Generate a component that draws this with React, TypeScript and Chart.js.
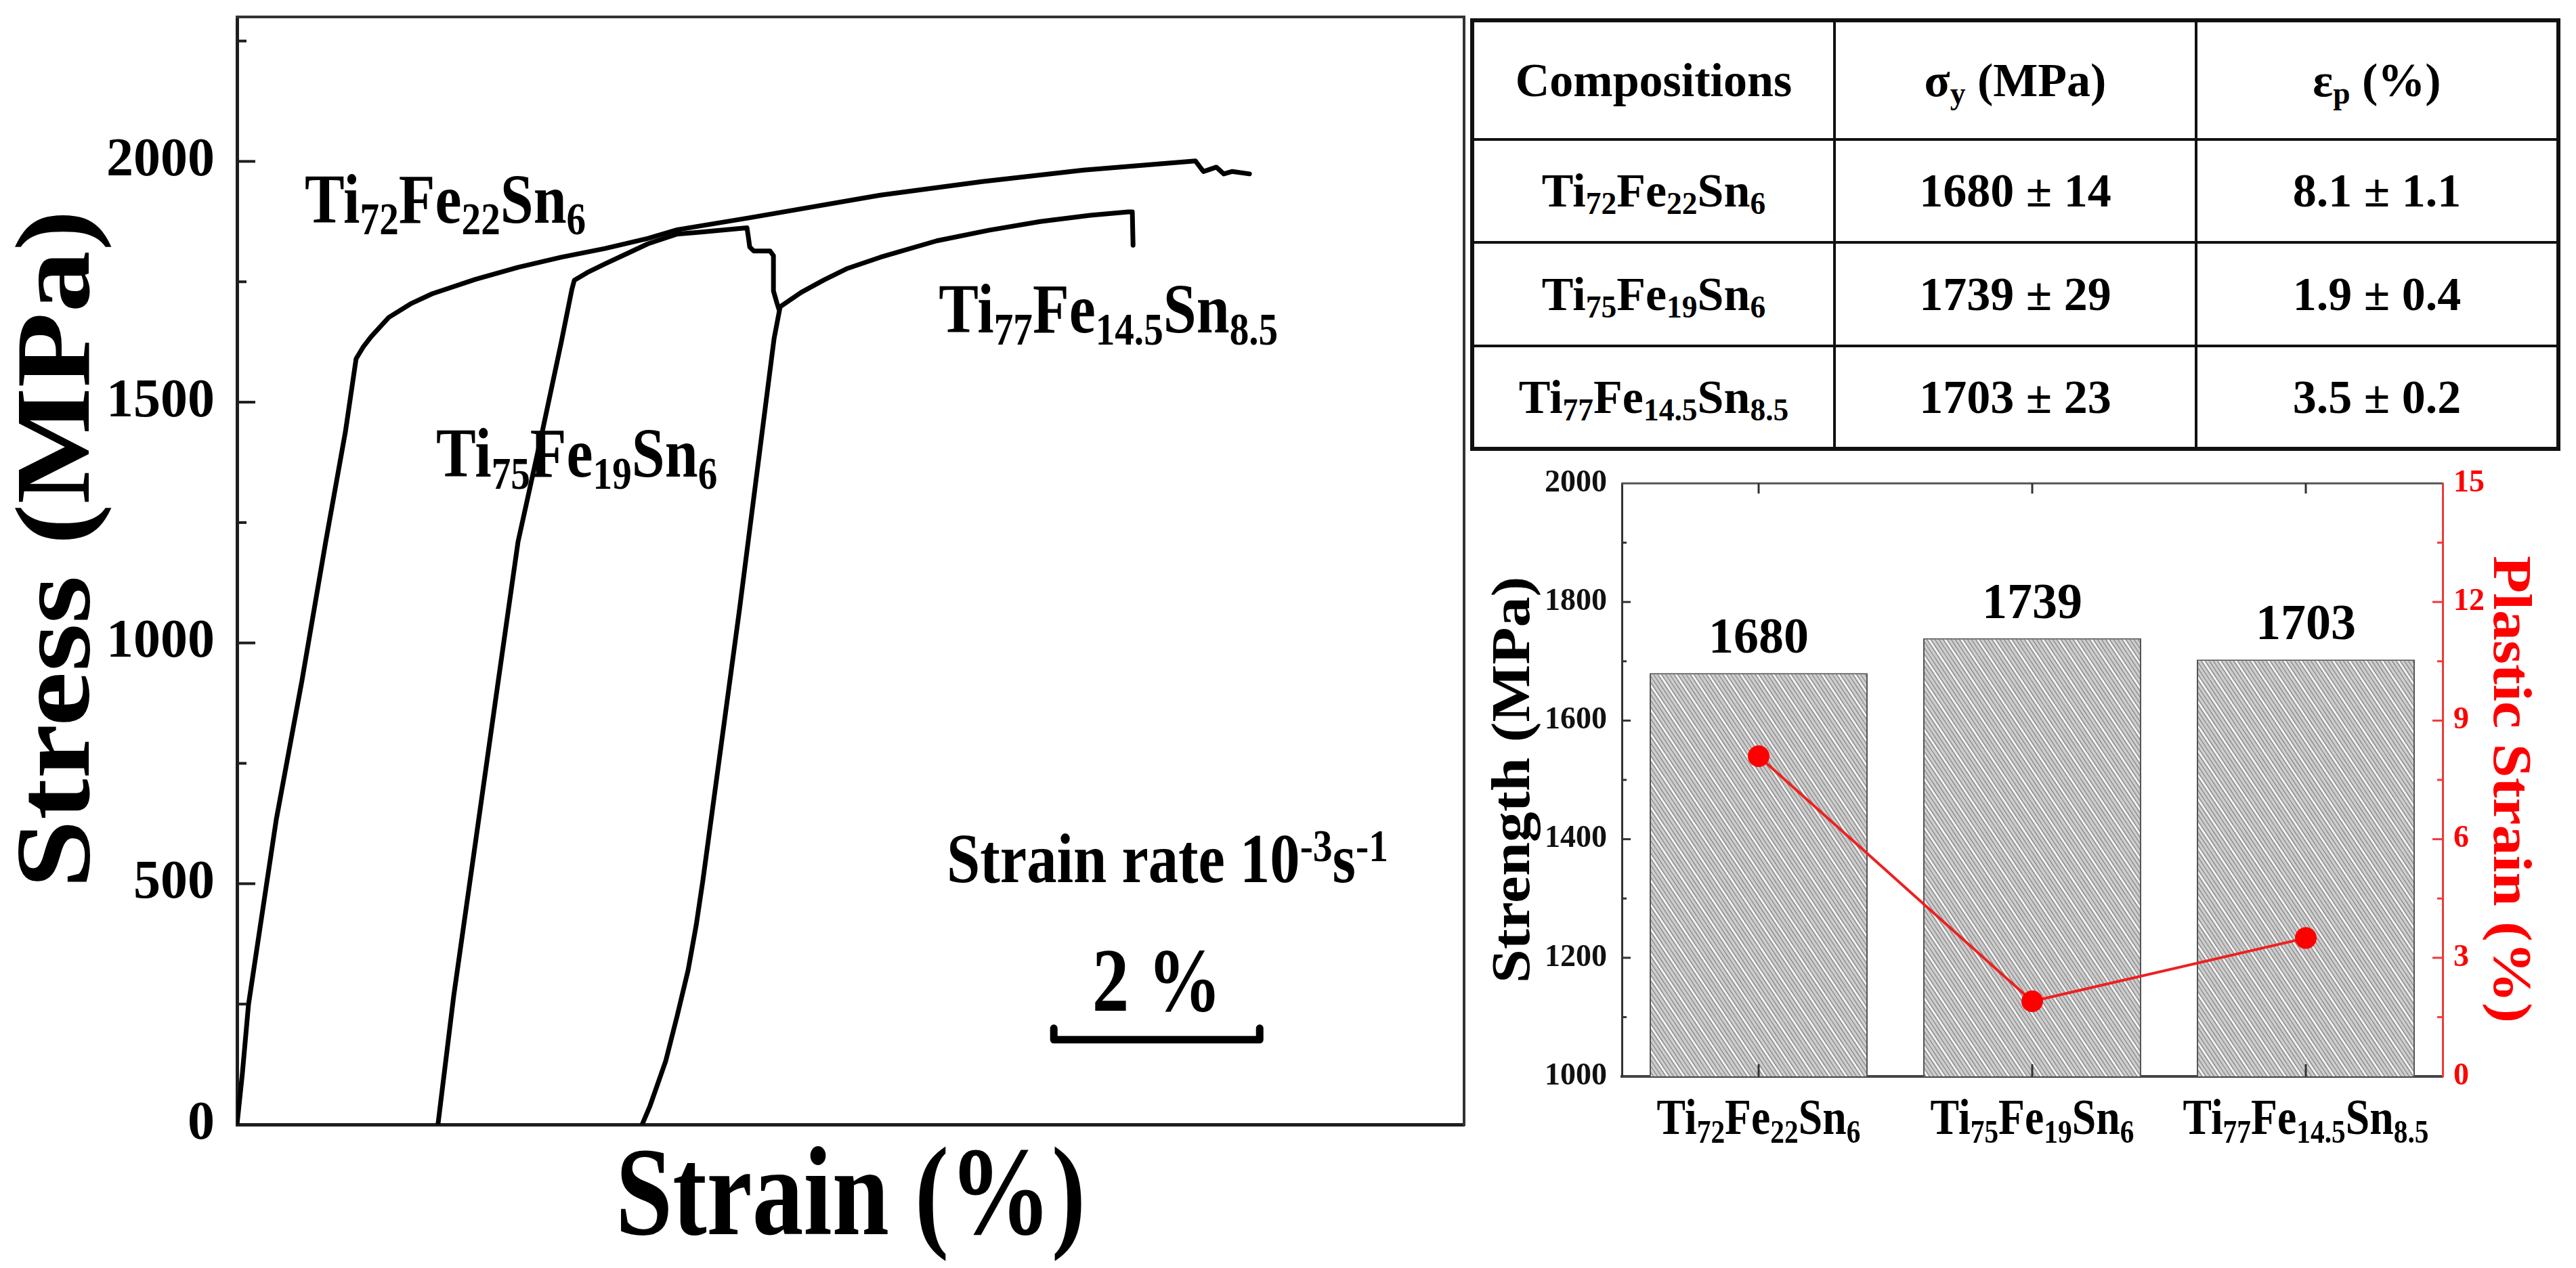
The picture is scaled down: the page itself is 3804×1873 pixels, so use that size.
import React, { useEffect, useRef } from 'react';
import { Chart, registerables } from 'chart.js';

Chart.register(...registerables);

const SERIF = "'Liberation Serif', 'Times New Roman', Times, serif";

// ---------------- data ----------------
const compositions = ['Ti72Fe22Sn6', 'Ti75Fe19Sn6', 'Ti77Fe14.5Sn8.5'];

// stress-strain curves (strain in %, stress in MPa; curves are offset along strain)
const strainA = [0, 0.05, 0.108, 0.369, 0.611, 0.834, 1.019, 1.12, 1.185, 1.261, 1.427, 1.631, 1.834, 2.242, 2.643, 3.051, 3.459, 3.866, 4.14, 4.822, 6.051, 7.006, 7.962, 9.013, 9.089, 9.21, 9.28, 9.357, 9.522];
const stressA = [0, 105, 249, 633, 922, 1210, 1438, 1590, 1614, 1636, 1676, 1704, 1725, 1755, 1780, 1801, 1819, 1840, 1858, 1883, 1930, 1958, 1982, 2001, 1979, 1988, 1974, 1979, 1974];

const strainB = [1.89, 2.038, 2.242, 2.439, 2.643, 2.87, 3.05, 3.15, 3.172, 3.293, 3.459, 3.662, 3.866, 4.14, 4.35, 4.796, 4.809, 4.822, 4.86, 5.013, 5.045, 5.045, 5.076, 5.096];
const stressB = [0, 267, 585, 893, 1210, 1438, 1625, 1735, 1753, 1769, 1787, 1808, 1829, 1849, 1853, 1862, 1843, 1822, 1814, 1814, 1804, 1731, 1707, 1693];

const strainC = [3.81, 3.885, 4.032, 4.14, 4.242, 4.318, 4.382, 4.726, 5.051, 5.108, 5.306, 5.522, 5.732, 6.051, 6.58, 7.07, 7.554, 8.025, 8.382, 8.42, 8.427];
const stressC = [0, 39, 132, 226, 320, 413, 508, 1070, 1632, 1698, 1728, 1754, 1777, 1801, 1835, 1857, 1875, 1888, 1895, 1895, 1826];

const stressTicks = [0, 250, 500, 750, 1000, 1250, 1500, 1750, 2000, 2250];
const stressTickLabels = [0, 500, 1000, 1500, 2000];

// table / bar chart values
const yieldStrength = [1680, 1739, 1703];
const yieldErr = [14, 29, 23];
const plasticStrain = [8.1, 1.9, 3.5];
const plasticErr = [1.1, 0.4, 0.2];

const strengthTickLabels = [1000, 1200, 1400, 1600, 1800, 2000];
const plasticTickLabels = [0, 3, 6, 9, 12, 15];

// annotation anchors (data coordinates of the left panel)
const labelStrain = [0.637, 1.873, 6.599];
const labelStress = [1873, 1345, 1645];
const rateAnchor = { strain: 6.675, stress: 503 };
const scaleBar = { start: 7.65, length: 2, stress: 176, textStress: 236 };

// ---------------- helpers ----------------
type Seg = { t: string; s?: 'sub' | 'sup' };

function formulaSegs(f: string): Seg[] {
  const out: Seg[] = [];
  const re = /([A-Z][a-z]?)([\d.]*)/g;
  let m: RegExpExecArray | null;
  while ((m = re.exec(f)) !== null) {
    if (!m[0]) { re.lastIndex++; continue; }
    out.push({ t: m[1] });
    if (m[2]) out.push({ t: m[2], s: 'sub' });
  }
  return out;
}

function drawRich(ctx: any, segs: Seg[], x: number, y: number, size: number, o: any = {}) {
  const weight = o.weight ?? 'bold';
  ctx.save();
  ctx.translate(x, y);
  if (o.rot) ctx.rotate(o.rot);
  ctx.scale(o.sx ?? 1, o.sy ?? 1);
  ctx.fillStyle = o.color ?? '#000';
  ctx.textBaseline = 'alphabetic';
  ctx.textAlign = 'left';
  const fs = (s: Seg) => (s.s ? size * 0.65 : size);
  let W = 0;
  for (const s of segs) {
    ctx.font = `${weight} ${fs(s)}px ${SERIF}`;
    W += ctx.measureText(s.t).width;
  }
  let cx = o.align === 'center' ? -W / 2 : o.align === 'right' ? -W : 0;
  for (const s of segs) {
    ctx.font = `${weight} ${fs(s)}px ${SERIF}`;
    const dy = s.s === 'sub' ? size * 0.17 : s.s === 'sup' ? -size * 0.3 : 0;
    ctx.fillText(s.t, cx, dy);
    cx += ctx.measureText(s.t).width;
  }
  ctx.restore();
}

function formulaJSX(f: string) {
  return formulaSegs(f).map((s, i) =>
    s.s ? (
      <sub key={i} style={{ fontSize: '0.65em', verticalAlign: '-0.25em', lineHeight: 0 }}>{s.t}</sub>
    ) : (
      <span key={i}>{s.t}</span>
    )
  );
}

// ---------------- left panel ----------------
function StressStrainChart() {
  const ref = useRef<HTMLCanvasElement>(null);
  useEffect(() => {
    const canvas = ref.current!;
    const mk = (xs: number[], ys: number[]) => xs.map((x, i) => ({ x, y: ys[i] }));
    const lineStyle: any = {
      borderColor: '#000', borderWidth: 7, pointRadius: 0, tension: 0, fill: false,
      borderJoinStyle: 'round', borderCapStyle: 'round',
    };
    const decor = {
      id: 'ssDecor',
      afterDraw(chart: any) {
        const { ctx, chartArea: a } = chart;
        const xs = chart.scales.x;
        const ys = chart.scales.y;
        ctx.save();
        ctx.lineCap = 'butt';
        ctx.strokeStyle = '#333';
        ctx.lineWidth = 4;
        ctx.beginPath();
        ctx.moveTo(a.left - 2, a.top);
        ctx.lineTo(a.right, a.top);
        ctx.lineTo(a.right, a.bottom + 2);
        ctx.stroke();
        ctx.strokeStyle = '#1e1e1e';
        ys.ticks.forEach((t: any) => {
          if (t.value <= ys.min) return;
          const py = ys.getPixelForValue(t.value);
          const len = stressTickLabels.includes(t.value) ? 27 : 14;
          ctx.beginPath();
          ctx.moveTo(a.left, py);
          ctx.lineTo(a.left + len, py);
          ctx.stroke();
        });
        // axis titles
        drawRich(ctx, [{ t: 'Stress (MPa)' }], 131, 811, 182, { align: 'center', rot: -Math.PI / 2, sy: 0.86 });
        drawRich(ctx, [{ t: 'Strain (%)' }], (a.left + a.right) / 2, a.bottom + 162, 187, { align: 'center', sx: 0.81 });
        // composition labels
        compositions.forEach((c, i) => {
          drawRich(ctx, formulaSegs(c), xs.getPixelForValue(labelStrain[i]), ys.getPixelForValue(labelStress[i]), 104, { sx: 0.846 });
        });
        // strain rate
        drawRich(
          ctx,
          [{ t: 'Strain rate 10' }, { t: '-3', s: 'sup' }, { t: 's' }, { t: '-1', s: 'sup' }],
          xs.getPixelForValue(rateAnchor.strain), ys.getPixelForValue(rateAnchor.stress), 103, { sx: 0.86 }
        );
        // scale bar
        const x0 = xs.getPixelForValue(scaleBar.start);
        const x1 = xs.getPixelForValue(scaleBar.start + scaleBar.length);
        const yb = ys.getPixelForValue(scaleBar.stress);
        ctx.strokeStyle = '#000';
        ctx.lineWidth = 11;
        ctx.lineJoin = 'round';
        ctx.lineCap = 'round';
        ctx.beginPath();
        ctx.moveTo(x0 + 5, yb - 17);
        ctx.lineTo(x0 + 5, yb);
        ctx.lineTo(x1 - 5, yb);
        ctx.lineTo(x1 - 5, yb - 17);
        ctx.stroke();
        drawRich(ctx, [{ t: `${scaleBar.length} %` }], (x0 + x1) / 2, ys.getPixelForValue(scaleBar.textStress), 133, { align: 'center', sx: 0.82 });
        ctx.restore();
      },
    };
    const chart = new Chart(canvas, {
      type: 'line',
      data: {
        datasets: [
          { label: compositions[0], data: mk(strainA, stressA), ...lineStyle },
          { label: compositions[1], data: mk(strainB, stressB), ...lineStyle },
          { label: compositions[2], data: mk(strainC, stressC), ...lineStyle },
        ],
      },
      options: {
        animation: false,
        responsive: false,
        maintainAspectRatio: false,
        layout: { padding: { top: 25, right: 6, left: 0, bottom: 0 } },
        plugins: { legend: { display: false }, tooltip: { enabled: false } },
        scales: {
          x: {
            type: 'linear', min: 0, max: 11.54,
            ticks: { display: false },
            grid: { display: false, drawTicks: false },
            border: { display: true, color: '#1e1e1e', width: 5 },
            afterFit: (s: any) => { s.height = 212; s.paddingLeft = 0; s.paddingRight = 0; },
          },
          y: {
            type: 'linear', min: 0, max: 2300,
            afterBuildTicks: (s: any) => { s.ticks = stressTicks.map((v) => ({ value: v })); },
            ticks: {
              autoSkip: false, padding: 33,
              color: '#000', font: { family: SERIF, size: 80, weight: 'bold' },
              callback: (v: any) => (stressTickLabels.includes(Number(v)) ? String(v) : ''),
            },
            grid: { display: false, drawTicks: false },
            border: { display: true, color: '#1e1e1e', width: 5 },
            afterFit: (s: any) => { s.width = 350; s.paddingTop = 0; s.paddingBottom = 0; },
          },
        },
      } as any,
      plugins: [decor],
    });
    return () => chart.destroy();
  }, []);
  return (
    <canvas ref={ref} width={2168} height={1873}
      style={{ position: 'absolute', left: 0, top: 0, width: 2168, height: 1873 }} />
  );
}

// ---------------- table ----------------
function PropertyTable() {
  const cell: any = { border: '4px solid #111', textAlign: 'center', verticalAlign: 'middle', padding: 0, lineHeight: 1 };
  const subStyle: any = { fontSize: '0.65em', verticalAlign: '-0.25em', lineHeight: 0 };
  const rowH = [176, 152, 153, 152];
  return (
    <table style={{
      position: 'absolute', left: 2171, top: 27, width: 1604, height: 633,
      borderCollapse: 'collapse', tableLayout: 'fixed', fontFamily: SERIF, fontWeight: 'bold',
      fontSize: 70, color: '#000', border: '6px solid #111',
    }}>
      <colgroup>
        <col style={{ width: 535 }} />
        <col style={{ width: 534 }} />
        <col style={{ width: 535 }} />
      </colgroup>
      <tbody>
        <tr style={{ height: rowH[0] }}>
          <td style={cell}>Compositions</td>
          <td style={cell}>σ<sub style={subStyle}>y</sub> (MPa)</td>
          <td style={cell}>ε<sub style={subStyle}>p</sub> (%)</td>
        </tr>
        {compositions.map((c, i) => (
          <tr key={c} style={{ height: rowH[i + 1] }}>
            <td style={cell}>{formulaJSX(c)}</td>
            <td style={cell}>{`${yieldStrength[i]} ± ${yieldErr[i]}`}</td>
            <td style={cell}>{`${plasticStrain[i].toFixed(1)} ± ${plasticErr[i].toFixed(1)}`}</td>
          </tr>
        ))}
      </tbody>
    </table>
  );
}

// ---------------- bar + line panel ----------------
function makeHatch(ctx: CanvasRenderingContext2D) {
  const W = 24, H = 36;
  const pc = document.createElement('canvas');
  pc.width = W;
  pc.height = H;
  const g = pc.getContext('2d')!;
  g.fillStyle = '#cdcdcd';
  g.fillRect(0, 0, W, H);
  g.strokeStyle = '#8a8a8a';
  g.lineWidth = 1.3;
  for (let o = -2 * W; o <= 2 * W; o += 6) {
    g.beginPath(); g.moveTo(o, 0); g.lineTo(o + W, H); g.stroke();
  }
  g.strokeStyle = '#ffffff';
  g.lineWidth = 1.8;
  for (let o = -2 * W + 3; o <= 2 * W; o += 24) {
    g.beginPath(); g.moveTo(o, 0); g.lineTo(o + W, H); g.stroke();
  }
  return ctx.createPattern(pc, 'repeat');
}

function StrengthChart() {
  const ref = useRef<HTMLCanvasElement>(null);
  useEffect(() => {
    const canvas = ref.current!;
    const pattern = makeHatch(canvas.getContext('2d')!);
    const decor = {
      id: 'barDecor',
      afterDraw(chart: any) {
        const { ctx, chartArea: a } = chart;
        const x = chart.scales.x, y = chart.scales.y, y1 = chart.scales.y1;
        ctx.save();
        ctx.lineCap = 'butt';
        // top frame line
        ctx.strokeStyle = '#555';
        ctx.lineWidth = 3;
        ctx.beginPath();
        ctx.moveTo(a.left, a.top);
        ctx.lineTo(a.right, a.top);
        ctx.stroke();
        // left ticks
        ctx.strokeStyle = '#333';
        y.ticks.forEach((t: any) => {
          if (t.value <= y.min || t.value >= y.max) return;
          const py = y.getPixelForValue(t.value);
          const len = strengthTickLabels.includes(t.value) ? 13 : 7;
          ctx.beginPath(); ctx.moveTo(a.left, py); ctx.lineTo(a.left + len, py); ctx.stroke();
        });
        // right ticks (red)
        ctx.strokeStyle = '#ee3b3b';
        y1.ticks.forEach((t: any) => {
          if (t.value <= y1.min || t.value >= y1.max) return;
          const py = y1.getPixelForValue(t.value);
          const major = plasticTickLabels.some((v) => Math.abs(v - t.value) < 1e-6);
          ctx.beginPath(); ctx.moveTo(a.right, py); ctx.lineTo(a.right - (major ? 15 : 8), py); ctx.stroke();
        });
        // category ticks top & bottom
        ctx.strokeStyle = '#333';
        compositions.forEach((_c, i) => {
          const px = x.getPixelForValue(i);
          ctx.beginPath(); ctx.moveTo(px, a.bottom); ctx.lineTo(px, a.bottom - 18); ctx.stroke();
          ctx.beginPath(); ctx.moveTo(px, a.top); ctx.lineTo(px, a.top + 15); ctx.stroke();
        });
        // category labels with subscripts
        compositions.forEach((c, i) => {
          drawRich(ctx, formulaSegs(c), x.getPixelForValue(i), a.bottom + 85, 75, { align: 'center', sx: 0.85 });
        });
        // value labels above bars
        const meta = chart.getDatasetMeta(1);
        meta.data.forEach((bar: any, i: number) => {
          drawRich(ctx, [{ t: String(yieldStrength[i]) }], bar.x, bar.y - 30, 74, { align: 'center' });
        });
        // axis titles
        drawRich(ctx, [{ t: 'Strength (MPa)' }], 93, (a.top + a.bottom) / 2, 90, { align: 'center', rot: -Math.PI / 2, sy: 0.89 });
        drawRich(ctx, [{ t: 'Plastic Strain (%)' }], 1518, 486, 90, { align: 'center', rot: Math.PI / 2, sy: 0.89, color: '#ff0000' });
        ctx.restore();
      },
    };
    const chart = new Chart(canvas, {
      type: 'bar',
      data: {
        labels: compositions,
        datasets: [
          {
            type: 'line', label: 'Plastic Strain (%)', data: plasticStrain, yAxisID: 'y1',
            borderColor: '#ee2020', borderWidth: 4, pointRadius: 16, pointHoverRadius: 16,
            pointBackgroundColor: '#ff0000', pointBorderColor: '#ff0000', pointBorderWidth: 0,
            tension: 0, order: 1,
          },
          {
            type: 'bar', label: 'Strength (MPa)', data: yieldStrength, yAxisID: 'y',
            backgroundColor: pattern, borderColor: '#555', borderWidth: 2,
            barPercentage: 0.797, categoryPercentage: 1, order: 2,
          },
        ],
      } as any,
      options: {
        animation: false,
        responsive: false,
        maintainAspectRatio: false,
        layout: { padding: { top: 34, left: 0, right: 0, bottom: 0 } },
        plugins: { legend: { display: false }, tooltip: { enabled: false } },
        scales: {
          x: {
            ticks: { display: false },
            grid: { display: false, drawTicks: false },
            border: { display: true, color: '#444', width: 4 },
            afterFit: (s: any) => { s.height = 283; s.paddingLeft = 0; s.paddingRight = 0; },
          },
          y: {
            position: 'left', min: 1000, max: 2000,
            ticks: {
              stepSize: 100, autoSkip: false, maxTicksLimit: 50, padding: 22, color: '#111',
              font: { family: SERIF, size: 46, weight: 'bold' },
              callback: (v: any) => (strengthTickLabels.includes(Number(v)) ? String(v) : ''),
            },
            grid: { display: false, drawTicks: false },
            border: { display: true, color: '#333', width: 3 },
            afterFit: (s: any) => { s.width = 230; s.paddingTop = 0; s.paddingBottom = 0; },
          },
          y1: {
            position: 'right', min: 0, max: 15,
            ticks: {
              stepSize: 1.5, autoSkip: false, maxTicksLimit: 50, padding: 16, color: '#ff0000',
              font: { family: SERIF, size: 46, weight: 'bold' },
              callback: (v: any) => (plasticTickLabels.some((p) => Math.abs(p - Number(v)) < 1e-6) ? String(Math.round(Number(v))) : ''),
            },
            grid: { display: false, drawTicks: false },
            border: { display: true, color: '#ee3b3b', width: 3 },
            afterFit: (s: any) => { s.width = 197; s.paddingTop = 0; s.paddingBottom = 0; },
          },
        },
      } as any,
      plugins: [decor],
    });
    return () => chart.destroy();
  }, []);
  return (
    <canvas ref={ref} width={1639} height={1193}
      style={{ position: 'absolute', left: 2165, top: 680, width: 1639, height: 1193 }} />
  );
}

export default function App() {
  return (
    <div style={{ position: 'absolute', left: 0, top: 0, width: 3804, height: 1873, background: '#fff', overflow: 'hidden' }}>
      <StressStrainChart />
      <PropertyTable />
      <StrengthChart />
    </div>
  );
}
